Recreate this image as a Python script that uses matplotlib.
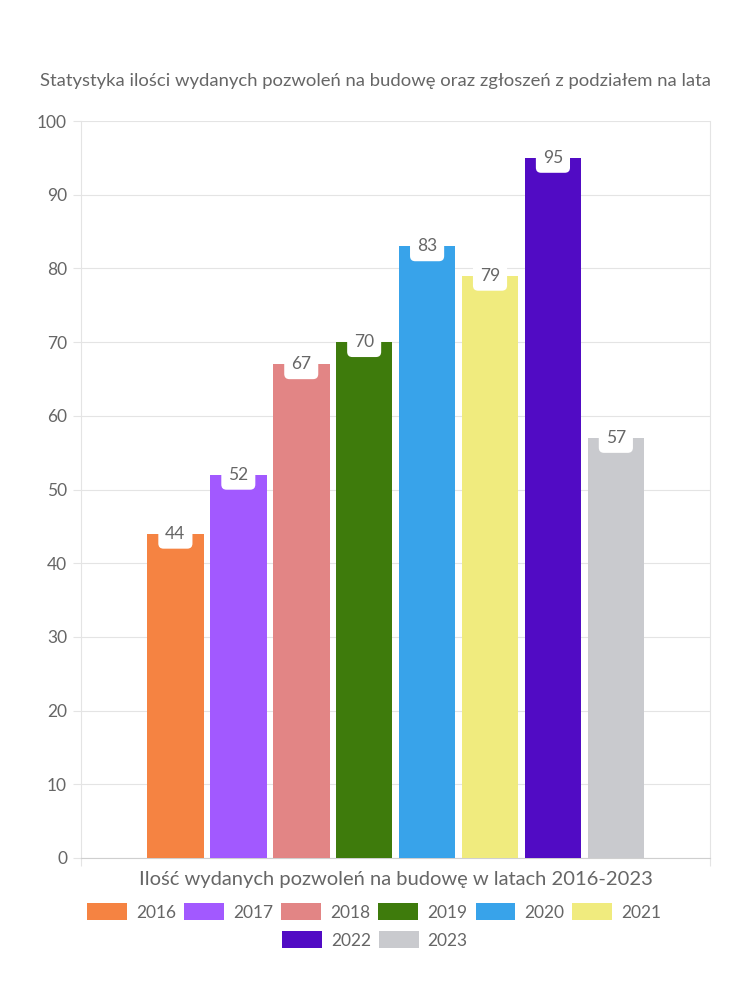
import matplotlib
matplotlib.use("Agg")
import matplotlib.pyplot as plt
from matplotlib.patches import Patch

plt.rcParams['font.family'] = ['Lato', 'DejaVu Sans']

years = ['2016', '2017', '2018', '2019', '2020', '2021', '2022', '2023']
values = [44, 52, 67, 70, 83, 79, 95, 57]
colors = ['#F58342', '#A259FF', '#E28585', '#3E7B0C', '#38A3EA', '#F0EB7E', '#510BC4', '#C9CACE']
title = 'Statystyka ilości wydanych pozwoleń na budowę oraz zgłoszeń z podziałem na lata'
xlabel = 'Ilość wydanych pozwoleń na budowę w latach 2016-2023'

txt = '#666666'
grid = '#e4e4e4'

fig = plt.figure(figsize=(7.5, 10), dpi=100)
ax = fig.add_axes([0.108, 0.142, 0.839, 0.737])

step = 0.1
width = 0.09
n = len(years)
for i, (y, v, c) in enumerate(zip(years, values, colors)):
    x = (i - (n - 1) / 2) * step
    ax.bar(x, v, width=width, color=c, label=y, zorder=3)
    ax.text(x, v, str(v), ha='center', va='center', fontsize=12.5, color=txt, zorder=4,
            bbox=dict(boxstyle='round,pad=0.4,rounding_size=0.3', fc='white', ec='none'))

ax.set_xlim(-0.5, 0.5)
ax.set_ylim(0, 100)
ax.set_yticks(range(0, 101, 10))
ax.set_xticks([-0.5, 0.5])
ax.set_xticklabels(['', ''])
ax.tick_params(axis='y', colors=grid, labelcolor=txt, labelsize=12.5, length=6, pad=4)
ax.tick_params(axis='x', colors=grid, length=6)
ax.grid(axis='y', color=grid, linewidth=0.8, zorder=0)
for s in ['left', 'right', 'top']:
    ax.spines[s].set_color(grid)
ax.spines['top'].set_visible(False)
ax.spines['bottom'].set_color('#cfcfcf')

fig.text(0.5, 0.919, title, ha='center', va='center', fontsize=13.3, color=txt)
fig.text(0.528, 0.12, xlabel, ha='center', va='center', fontsize=14.5, color=txt)

handles = [Patch(facecolor=c, edgecolor='none') for c in colors]
leg_kw = dict(frameon=False, fontsize=12.5, labelcolor=txt, handlelength=2.3, handleheight=1.1,
              handletextpad=0.5, columnspacing=0.48, borderaxespad=0)
l1 = fig.legend(handles[:6], years[:6], ncol=6, loc='center', bbox_to_anchor=(0.499, 0.088), **leg_kw)
l2 = fig.legend(handles[6:], years[6:], ncol=2, loc='center', bbox_to_anchor=(0.5, 0.060), **leg_kw)

fig.savefig('out.png', dpi=100)
